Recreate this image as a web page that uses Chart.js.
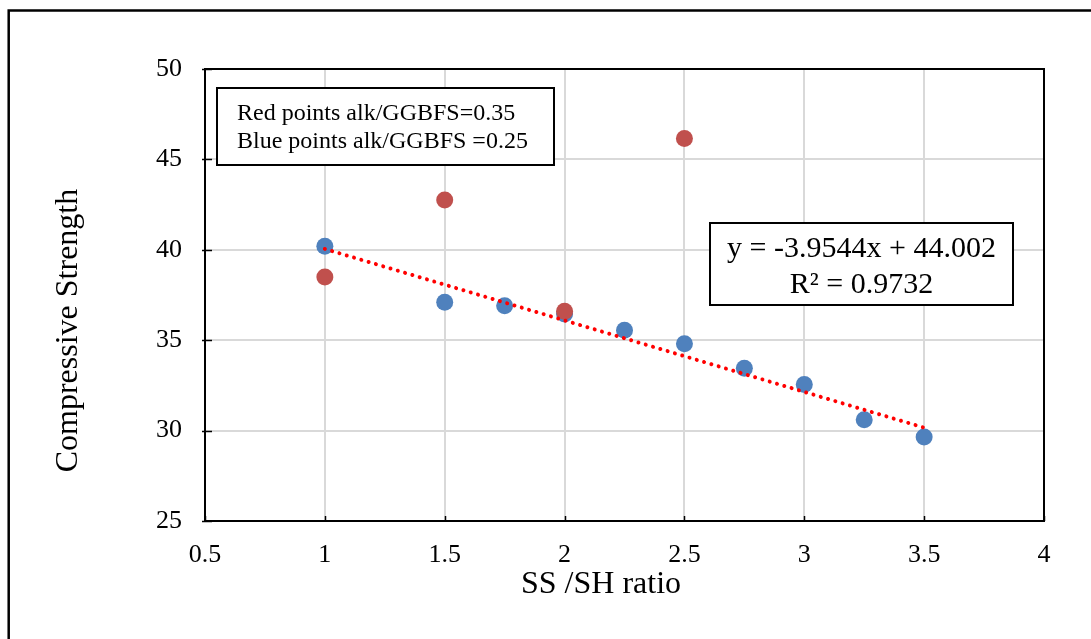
<!DOCTYPE html>
<html>
<head>
<meta charset="utf-8">
<script src="https://cdn.jsdelivr.net/npm/chart.js@4.4.1/dist/chart.umd.min.js"></script>
<style>
  html, body { margin: 0; padding: 0; background: #ffffff; }
  #wrap { width: 1091px; height: 639px; position: relative; }
  canvas { display: block; }
</style>
</head>
<body>
<div id="wrap"><canvas id="chart" width="1091" height="639"></canvas></div>
<script>
// SS/SH ratio vs compressive strength, alk/GGBFS = 0.25 (blue)
const ratioBlue    = [1, 1.5, 1.75, 2, 2.25, 2.5, 2.75, 3, 3.25, 3.5];
const strengthBlue = [40.2, 37.1, 36.9, 36.45, 35.55, 34.8, 33.45, 32.55, 30.6, 29.65];

// alk/GGBFS = 0.35 (red)
const ratioRed    = [1, 1.5, 2, 2.5];
const strengthRed = [38.5, 42.75, 36.6, 46.15];

// Linear fit of the blue series
const trendSlope = -3.9544;
const trendIntercept = 44.002;
const trendR2 = 0.9732;
const trendFrom = 1;
const trendTo = 3.5;

// Axis ranges and tick labels
const xTicks = [0.5, 1, 1.5, 2, 2.5, 3, 3.5, 4];
const yTicks = [25, 30, 35, 40, 45, 50];
const xTitle = 'SS /SH ratio';
const yTitle = 'Compressive Strength';

const noteLines = ['Red points alk/GGBFS=0.35', 'Blue points alk/GGBFS =0.25'];

const SERIF = '"Liberation Serif", "Times New Roman", Times, serif';
const toPoints = (xs, ys) => xs.map((x, i) => ({ x, y: ys[i] }));
const trendPoints = [trendFrom, trendTo].map(x => ({ x, y: trendSlope * x + trendIntercept }));
const fmtEq = () => 'y = ' + trendSlope.toFixed(4) + 'x + ' + trendIntercept.toFixed(3);

// Plot frame, inner tick marks, axis titles, outer chart border and text boxes
const framePlugin = {
  id: 'frame',
  beforeDatasetsDraw(chart) {
    const { ctx, chartArea: a, scales } = chart;
    ctx.save();
    ctx.strokeStyle = '#000';
    ctx.lineWidth = 1.5;
    scales.x.ticks.forEach(t => {
      const px = Math.round(scales.x.getPixelForValue(t.value)) + 0.5;
      ctx.beginPath(); ctx.moveTo(px, a.bottom); ctx.lineTo(px, a.bottom - 5); ctx.stroke();
    });
    scales.y.ticks.forEach(t => {
      const py = Math.round(scales.y.getPixelForValue(t.value)) + 0.5;
      ctx.beginPath(); ctx.moveTo(a.left - 3, py); ctx.lineTo(a.left + 7, py); ctx.stroke();
    });
    ctx.lineWidth = 2;
    ctx.strokeRect(a.left, a.top, a.right - a.left, a.bottom - a.top);
    ctx.restore();
  },
  afterDraw(chart) {
    const { ctx, chartArea: a } = chart;
    ctx.save();
    // outer chart border
    ctx.strokeStyle = '#000';
    ctx.lineWidth = 2.5;
    ctx.strokeRect(8.7, 10.5, chart.width + 20, chart.height + 20);

    // axis titles
    ctx.fillStyle = '#000';
    ctx.font = '32px ' + SERIF;
    ctx.textAlign = 'center';
    ctx.textBaseline = 'middle';
    ctx.fillText(xTitle, 601, 585);
    ctx.save();
    ctx.translate(68.5, 330.5);
    ctx.rotate(-Math.PI / 2);
    ctx.fillText(yTitle, 0, 0);
    ctx.restore();

    // series note box
    ctx.lineWidth = 2;
    const nx = a.left + 12, ny = a.top + 19, nw = 337, nh = 77;
    ctx.fillStyle = '#fff';
    ctx.fillRect(nx, ny, nw, nh);
    ctx.strokeRect(nx, ny, nw, nh);
    ctx.fillStyle = '#000';
    ctx.font = '24px ' + SERIF;
    ctx.textAlign = 'left';
    ctx.textBaseline = 'alphabetic';
    ctx.fillText(noteLines[0], nx + 20, ny + 32);
    ctx.fillText(noteLines[1], nx + 20, ny + 60);

    // trendline equation box
    const ex = a.left + 505, ey = a.top + 154, ew = 303, eh = 82;
    ctx.fillStyle = '#fff';
    ctx.fillRect(ex, ey, ew, eh);
    ctx.strokeRect(ex, ey, ew, eh);
    ctx.fillStyle = '#000';
    ctx.font = '30px ' + SERIF;
    ctx.textAlign = 'center';
    ctx.fillText(fmtEq(), ex + ew / 2, ey + 34);
    ctx.fillText('R\u00B2 = ' + trendR2.toFixed(4), ex + ew / 2, ey + 70);
    ctx.restore();
  }
};

new Chart(document.getElementById('chart'), {
  type: 'scatter',
  data: {
    datasets: [
      {
        label: 'Linear fit',
        type: 'line',
        data: trendPoints,
        borderColor: '#FF0000',
        borderWidth: 4,
        borderDash: [0.01, 7.6],
        borderCapStyle: 'round',
        pointRadius: 0,
        fill: false,
        order: 0
      },
      {
        label: 'alk/GGBFS=0.35',
        data: toPoints(ratioRed, strengthRed),
        backgroundColor: '#C0504D',
        borderWidth: 0,
        pointRadius: 8.5,
        pointHoverRadius: 8.5,
        order: 1
      },
      {
        label: 'alk/GGBFS=0.25',
        data: toPoints(ratioBlue, strengthBlue),
        backgroundColor: '#4F81BD',
        borderWidth: 0,
        pointRadius: 8.5,
        pointHoverRadius: 8.5,
        order: 2
      }
    ]
  },
  options: {
    responsive: false,
    devicePixelRatio: 1,
    animation: false,
    events: [],
    layout: { padding: { left: 0, right: 47, top: 69, bottom: 0 } },
    plugins: { legend: { display: false }, tooltip: { enabled: false } },
    scales: {
      x: {
        type: 'linear',
        min: xTicks[0],
        max: xTicks[xTicks.length - 1],
        afterBuildTicks: s => { s.ticks = xTicks.map(v => ({ value: v })); },
        afterFit: s => { s.height = 118; },
        ticks: {
          color: '#000', font: { family: SERIF, size: 26 }, padding: 19,
          maxRotation: 0, autoSkip: false, callback: v => String(v)
        },
        grid: { color: '#d9d9d9', lineWidth: 2, drawTicks: false },
        border: { display: true, color: '#000', width: 2 },
        title: { display: false }
      },
      y: {
        type: 'linear',
        min: yTicks[0],
        max: yTicks[yTicks.length - 1],
        afterBuildTicks: s => { s.ticks = yTicks.map(v => ({ value: v })); },
        afterFit: s => { s.width = 205; },
        ticks: { color: '#000', font: { family: SERIF, size: 26 }, padding: 23, autoSkip: false, callback: v => String(v) },
        grid: { color: '#d9d9d9', lineWidth: 2, drawTicks: false },
        border: { display: true, color: '#000', width: 2 },
        title: { display: false }
      }
    }
  },
  plugins: [framePlugin]
});
</script>
</body>
</html>
